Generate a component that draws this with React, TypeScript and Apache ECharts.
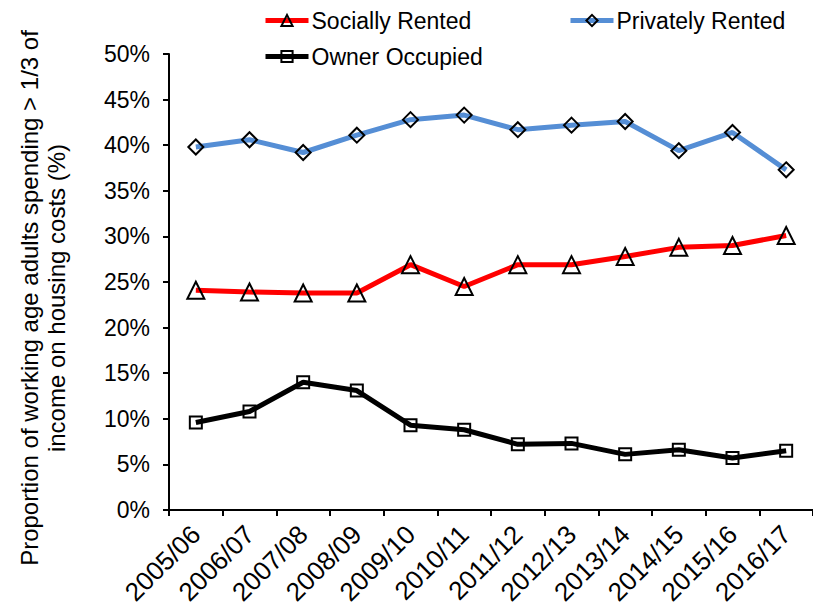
import React, { useEffect, useRef } from "react";
import * as echarts from "echarts";

const categories = [
  "2005/06", "2006/07", "2007/08", "2008/09", "2009/10", "2010/11",
  "2011/12", "2012/13", "2013/14", "2014/15", "2015/16", "2016/17",
];
const sociallyRented = [24.1, 23.9, 23.8, 23.8, 26.9, 24.5, 26.9, 26.9, 27.8, 28.8, 29.0, 30.1];
const privatelyRented = [39.8, 40.6, 39.2, 41.1, 42.8, 43.3, 41.7, 42.2, 42.6, 39.4, 41.4, 37.3];
const ownerOccupied = [9.6, 10.8, 14.0, 13.1, 9.3, 8.8, 7.2, 7.3, 6.1, 6.6, 5.7, 6.5];
const yTicks = { min: 0, max: 50, interval: 5 };
const yTitle = "Proportion of working age adults spending > 1/3 of\nincome on housing costs (%)";

const FONT = "'Liberation Sans', Arial, sans-serif";

export default function App() {
  const ref = useRef<HTMLDivElement>(null);
  useEffect(() => {
    document.body.style.margin = "0";
    if (!ref.current) return;
    const chart = echarts.init(ref.current, null, { renderer: "svg" });
    const mkSeries = (name: string, data: number[], color: string, symbol: string, size: number) => ({
      name,
      type: "line",
      data,
      symbol,
      symbolSize: size,
      lineStyle: { color, width: 5 },
      itemStyle: { color: "rgba(0,0,0,0)", borderColor: "#000", borderWidth: 2 },
      z: 2,
    });
    const legendBase = {
      orient: "horizontal",
      itemWidth: 43,
      itemHeight: 14,
      itemGap: 0,
      lineStyle: { width: 5 },
      textStyle: { fontSize: 23, color: "#000", fontFamily: FONT, padding: [0, 0, 0, -2] },
    };
    chart.setOption({
      animation: false,
      textStyle: { fontFamily: FONT },
      grid: { left: 169, top: 54, right: -5, bottom: 104, containLabel: false },
      legend: [
        { ...legendBase, data: ["Socially Rented"], left: 258, top: 4 },
        { ...legendBase, data: ["Privately Rented"], left: 563, top: 4 },
        { ...legendBase, data: ["Owner Occupied"], left: 258, top: 40 },
      ],
      xAxis: {
        type: "category",
        data: categories,
        boundaryGap: true,
        axisLine: { lineStyle: { color: "#000", width: 2 } },
        axisTick: { show: true, alignWithLabel: false, length: 6, lineStyle: { color: "#000", width: 2 } },
        axisLabel: { rotate: 45, fontSize: 26, color: "#000", margin: 20, interval: 0, fontFamily: FONT },
        splitLine: { show: false },
      },
      yAxis: {
        type: "value",
        min: yTicks.min,
        max: yTicks.max,
        interval: yTicks.interval,
        axisLine: { show: true, lineStyle: { color: "#000", width: 2 } },
        axisTick: { show: true, length: 6, lineStyle: { color: "#000", width: 2 } },
        axisLabel: { formatter: "{value}%", fontSize: 23, color: "#000", margin: 19, fontFamily: FONT },
        splitLine: { show: false },
      },
      graphic: [
        {
          type: "text",
          x: 43,
          y: 298,
          rotation: Math.PI / 2,
          style: {
            text: yTitle,
            fontSize: 24,
            fontFamily: FONT,
            fill: "#000",
            textAlign: "center",
            textVerticalAlign: "middle",
            lineHeight: 27,
          },
        },
      ],
      series: [
        mkSeries("Socially Rented", sociallyRented, "#FF0000", "triangle", 17),
        mkSeries("Privately Rented", privatelyRented, "#558ED5", "diamond", 15),
        mkSeries("Owner Occupied", ownerOccupied, "#000000", "rect", 12),
      ],
    });
    return () => chart.dispose();
  }, []);
  return <div ref={ref} style={{ width: 813, height: 614, position: "absolute", left: 0, top: 0 }} />;
}
